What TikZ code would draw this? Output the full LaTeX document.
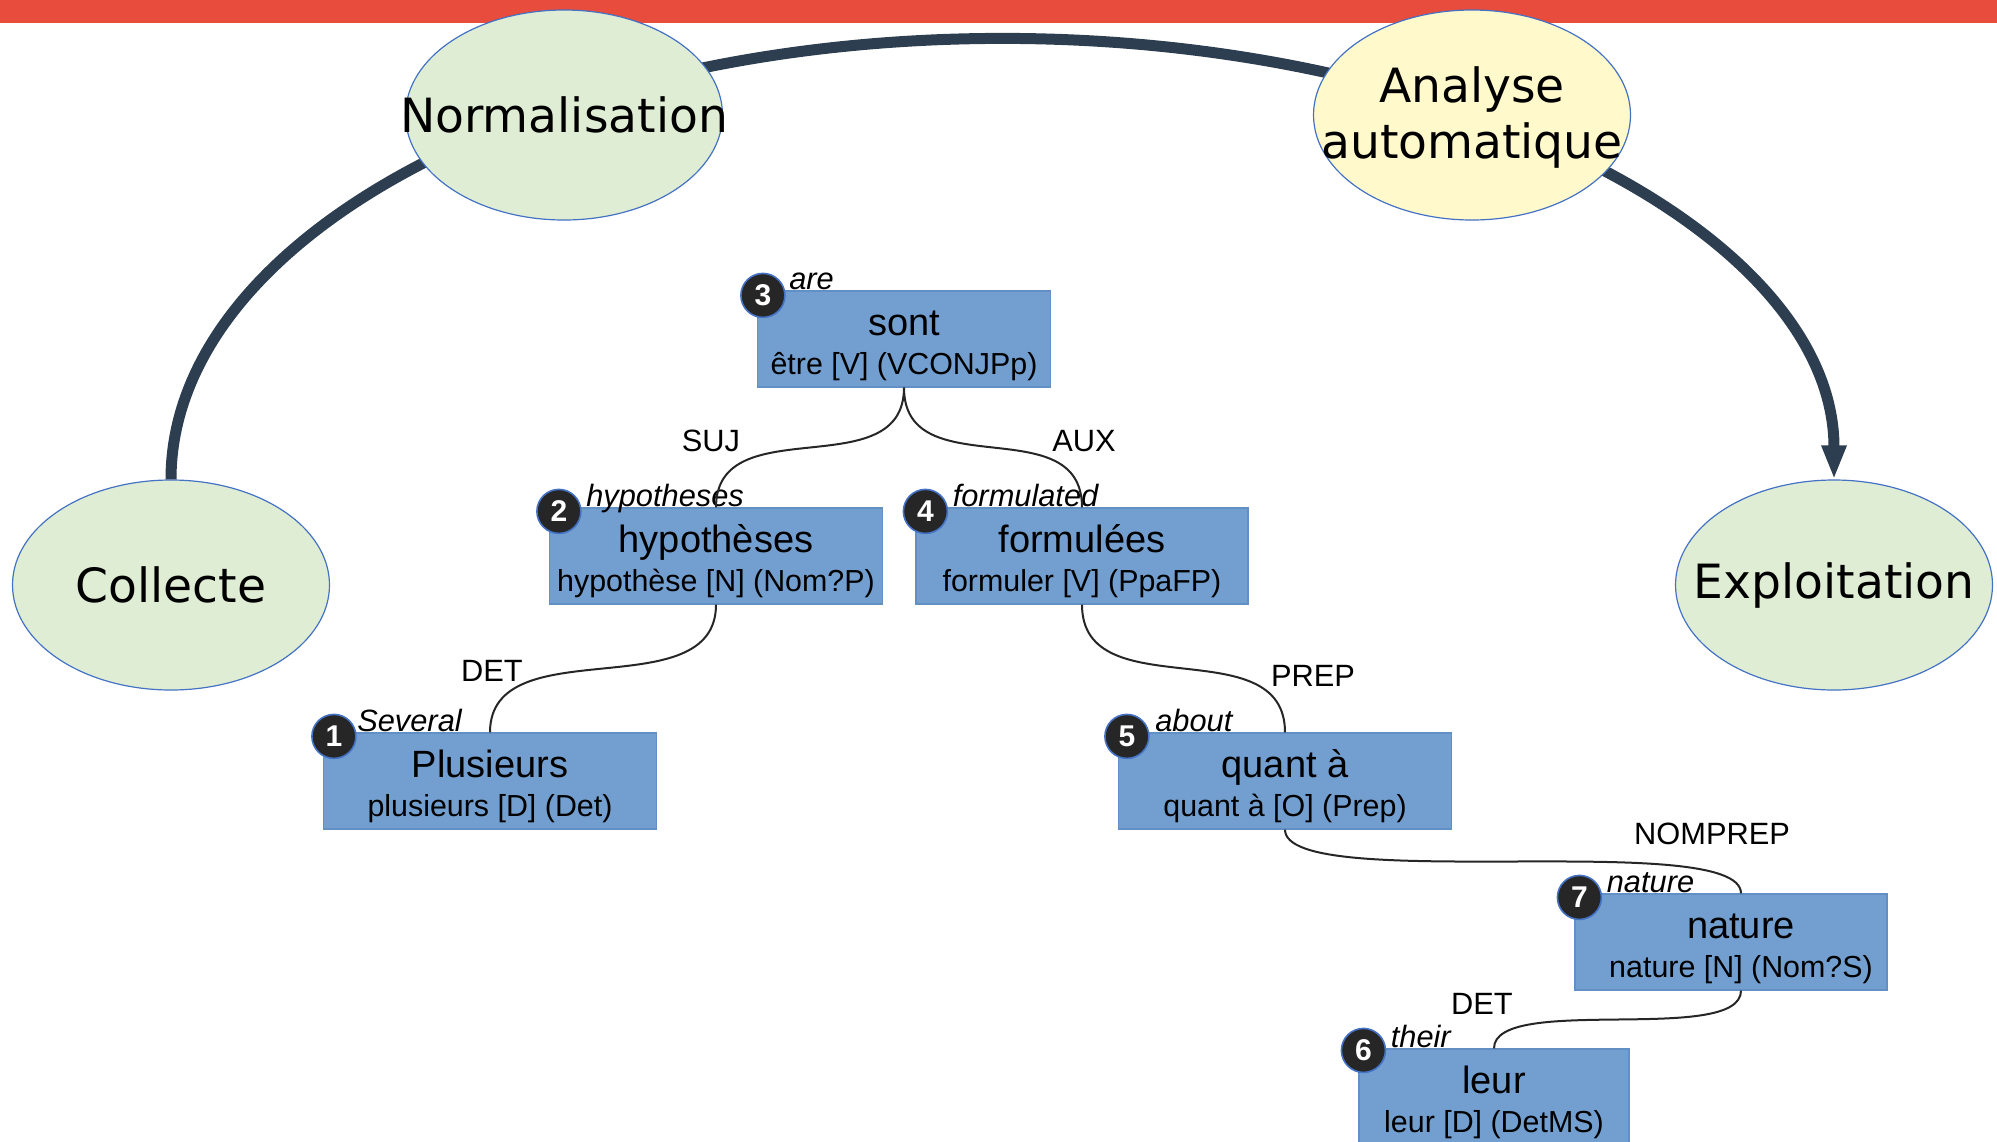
\documentclass[tikz,border=0pt]{standalone}
\usepackage{fontspec}
\setmainfont{Liberation Sans}
\newfontfamily\cyclefont{DejaVu Sans}
\usetikzlibrary{shapes.geometric,arrows.meta,calc}

\definecolor{barred}{RGB}{231,76,60}
\definecolor{cycleline}{RGB}{44,62,80}
\definecolor{phasegreen}{RGB}{223,237,213}
\definecolor{phaseyellow}{RGB}{255,249,204}
\definecolor{phaseedge}{RGB}{68,114,196}
\definecolor{tokblue}{RGB}{114,159,207}
\definecolor{tokedge}{RGB}{98,143,196}
\definecolor{badgegray}{RGB}{38,38,38}
\newcommand{\tokword}[1]{{\fontsize{19}{19}\selectfont\rule{0pt}{18.7pt}#1}}

\begin{document}
\begin{tikzpicture}[x=0.5pt, y=-0.5pt,
        phase/.style={ellipse, draw=phaseedge, line width=0.6pt, fill=phasegreen, minimum width=158.5pt, minimum height=105pt, inner sep=0pt, align=center, font=\cyclefont\fontsize{23.6}{28}\selectfont},
        tok/.style={rectangle, draw=tokedge, line width=0.6pt, fill=tokblue, minimum width=#1, minimum height=48pt, inner sep=0pt, align=center, font=\fontsize{15.2}{19.5}\selectfont},
        tok/.default=166.5pt,
        badge/.style={circle, fill=badgegray, draw=phaseedge, line width=0.8pt, minimum size=22pt, inner sep=0pt, text=white, font=\bfseries\fontsize{15}{15}\selectfont},
        gloss/.style={anchor=base west, inner sep=0pt, font=\itshape\fontsize{15.4}{15.4}\selectfont},
        rel/.style={inner sep=0pt, font=\fontsize{15.4}{15.4}\selectfont},
        dep/.style={line width=1pt, black!85}]
        \useasboundingbox (0,0) rectangle (1997,1141);
        \fill[barred] (0,0) rectangle (1997,23);

        % cycle
        \node[phase] (coll) at (171,585) {\makebox[0pt]{Collecte}};
        \node[phase] (expl) at (1834,585) {\makebox[0pt]{Exploitation}};
        \draw[cycleline, line width=5.5pt, -{Triangle[length=17pt, width=11.5pt]}] (coll.north) arc[start angle=180, end angle=0, x radius=415.75pt, y radius=220.5pt];
        \node[phase] (norm) at (564,115) {\makebox[0pt]{Normalisation}};
        \node[phase, fill=phaseyellow] (anal) at (1472,115) {\rule{0pt}{20pt}\makebox[0pt]{Analyse}\\\makebox[0pt]{automatique}};

        % tokens
        \node[tok=146.5pt] (sont) at (904,339) {\tokword{sont}\\être [V] (VCONJPp)};
        \node[tok] (hyp) at (716,556) {\tokword{hypothèses}\\hypothèse [N] (Nom?P)};
        \node[tok=166pt] (form) at (1082,556) {\tokword{formulées}\\formuler [V] (PpaFP)};
        \node[tok] (plus) at (490,781) {\tokword{Plusieurs}\\plusieurs [D] (Det)};
        \node[tok] (quant) at (1285,781) {\tokword{quant à}\\quant à [O] (Prep)};
        \node[tok=156pt] (nat) at (1731,942) {\hspace*{10pt}\tokword{nature}\\\hspace*{10pt}nature [N] (Nom?S)};
        \node[tok=135pt] (leur) at (1494,1097) {\tokword{leur}\\leur [D] (DetMS)};

        % numbers
        \node[badge] (b3) at ($(sont.north west)+(6,5)$) {3};
        \node[badge] (b2) at ($(hyp.north west)+(10,4)$) {2};
        \node[badge] (b4) at ($(form.north west)+(10,4)$) {4};
        \node[badge] (b1) at ($(plus.north west)+(11,4)$) {1};
        \node[badge] (b5) at ($(quant.north west)+(9,4)$) {5};
        \node[badge] (b7) at ($(nat.north west)+(5,4)$) {7};
        \node[badge] (b6) at ($(leur.north west)+(5,2)$) {6};

        % english words
        \node[gloss] (g3) at ($(sont.north west)+(32,-1)$) {are};
        \node[gloss] (g2) at ($(hyp.north west)+(37,-1)$) {hypotheses};
        \node[gloss] (g4) at ($(form.north west)+(37,-1)$) {formulated};
        \node[gloss] (g1) at ($(plus.north west)+(34,-1)$) {Several};
        \node[gloss] (g5) at ($(quant.north west)+(37,-1)$) {about};
        \node[gloss] (g7) at ($(nat.north west)+(32,-1)$) {nature};
        \node[gloss] (g6) at ($(leur.north west)+(32,-1)$) {their};

        % dependencies
        \draw[dep] (sont.south) .. controls +(0,100) and +(0,-100) .. (hyp.north);
        \draw[dep] (sont.south) .. controls +(0,100) and +(0,-100) .. (form.north);
        \draw[dep] (hyp.south) .. controls +(0,105) and +(0,-105) .. (plus.north);
        \draw[dep] (form.south) .. controls +(0,105) and +(0,-105) .. (quant.north);
        \draw[dep] (quant.south) .. controls +(0,65) and +(0,-65) .. ([xshift=5pt]nat.north);
        \draw[dep] ([xshift=5pt]nat.south) .. controls +(0,55) and +(0,-55) .. (leur.north);

        % relation labels
        \node[rel] (suj) at (711,441) {SUJ};
        \node[rel] (aux) at (1084,441) {AUX};
        \node[rel] (det1) at (492,671) {DET};
        \node[rel] (prep) at (1313,676) {PREP};
        \node[rel] (nomprep) at (1712,834) {NOMPREP};
        \node[rel] (det2) at (1482,1004) {DET};
\end{tikzpicture}
\end{document}
